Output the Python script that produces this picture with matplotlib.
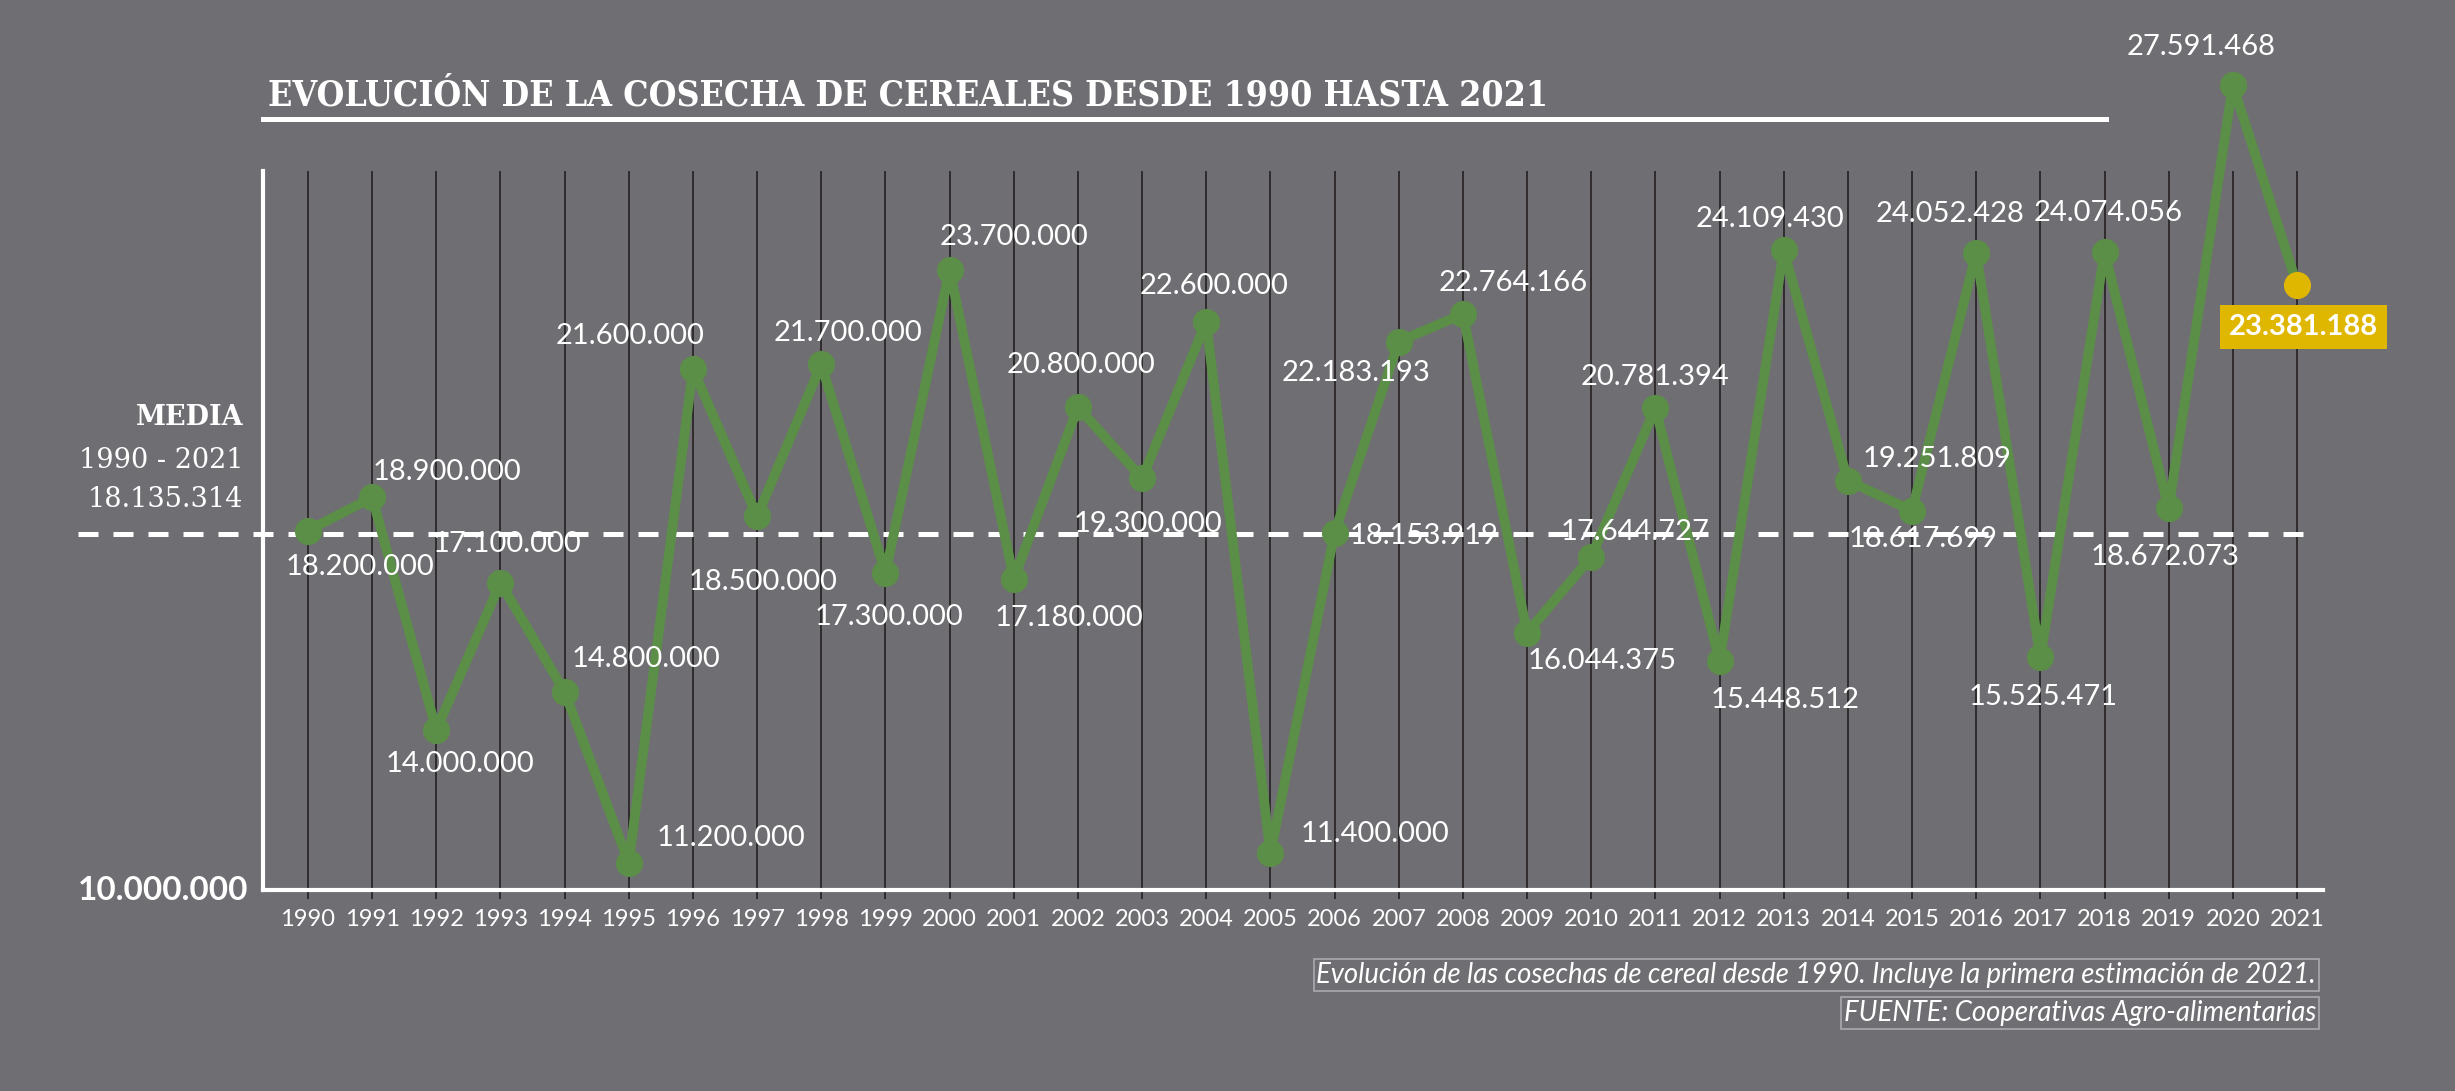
import matplotlib
matplotlib.use('Agg')
import matplotlib.pyplot as plt
from matplotlib.lines import Line2D

# ---------------- data ----------------
years = list(range(1990, 2022))
harvest = [18200000, 18900000, 14000000, 17100000, 14800000, 11200000,
           21600000, 18500000, 21700000, 17300000, 23700000, 17180000,
           20800000, 19300000, 22600000, 11400000, 18153919, 22183193,
           22764166, 16044375, 17644727, 20781394, 15448512, 24109430,
           19251809, 18617699, 24052428, 15525471, 24074056, 18672073,
           27591468, 23381188]
mean_value = 18135314
mean_period = "1990 - 2021"
title = "EVOLUCIÓN DE LA COSECHA DE CEREALES DESDE 1990 HASTA 2021"
note1 = "Evolución de las cosechas de cereal desde 1990. Incluye la primera estimación de 2021."
note2 = "FUENTE: Cooperativas Agro-alimentarias"
axis_floor_label = "10.000.000"

# label offsets (reference px, dx right, dy down)
label_offsets = [(33, 23), (48, -16), (15, 22), (4, -25), (52, -21), (65, -16),
                 (-40, -21), (4, 42), (17, -20), (2, 28), (41, -21), (35, 25),
                 (2, -27), (4, 29), (5, -23), (67, -12), (57, 2), (-27, 20),
                 (32, -20), (48, 18), (28, -16), (0, -20), (42, 25), (-9, -20),
                 (57, -14), (7, 18), (-17, -25), (2, 25), (2, -25), (-2, 31),
                 (-20, -24), (4, 27)]

def fmt(v):
    return f"{v:,}".replace(",", ".")

# ---------------- style ----------------
BG = '#6f6e73'
GREEN = '#5b8f47'
YELLOW = '#e0b700'
GRID = '#2b2728'
W = 2455
H = 1091
plt.rcParams['font.family'] = ['Lato', 'DejaVu Sans']

fig = plt.figure(figsize=(W / 100, H / 100), dpi=100, facecolor=BG)
ax = fig.add_axes([263 / W, 1 - 890 / H, 2060 / W, 719 / H])
ax.set_facecolor(BG)
ax.set_xlim(1989.2986, 2021.405)
ax.set_ylim(10.625e6, 25.778e6)

for s in ['top', 'right']:
    ax.spines[s].set_visible(False)
for s in ['left', 'bottom']:
    ax.spines[s].set_color('white')
    ax.spines[s].set_linewidth(3.0)
    ax.spines[s].set_zorder(3)

ax.set_yticks([])
ax.set_xticks(years)
ax.set_xticklabels([str(y) for y in years], fontsize=17, color='white')
ax.tick_params(axis='x', length=0, pad=14)

# vertical grid lines
ax.vlines(years, -0.012, 1.0, transform=ax.get_xaxis_transform(),
          color=GRID, lw=1.3, zorder=1, clip_on=False)

# mean dashed line
ax.plot([-0.0898, 0.9956], [mean_value, mean_value],
        transform=ax.get_yaxis_transform(), color='white', lw=3.6,
        dashes=(4, 3), dash_capstyle='butt', clip_on=False, zorder=2)

# series
ax.plot(years, harvest, color=GREEN, lw=7, zorder=4, clip_on=False,
        solid_joinstyle='round')
ax.plot(years[:-1], harvest[:-1], 'o', color=GREEN, ms=18.5, zorder=5,
        clip_on=False)
ax.plot(years[-1:], harvest[-1:], 'o', color=YELLOW, ms=18.5, zorder=5,
        clip_on=False)

k = 1.127
for i, (yr, v) in enumerate(zip(years, harvest)):
    dx, dy = label_offsets[i]
    if i == len(years) - 1:
        ax.annotate(fmt(v), (yr, v), xytext=(dx * k, -dy * k),
                    textcoords='offset points', ha='center', va='center',
                    fontsize=21, fontweight='bold', color='white', zorder=7,
                    annotation_clip=False,
                    bbox=dict(boxstyle='square,pad=0.3', fc=YELLOW, ec='none'))
    else:
        ax.annotate(fmt(v), (yr, v), xytext=(dx * k, -dy * k),
                    textcoords='offset points', ha='center', va='center',
                    fontsize=21, color='white', zorder=7,
                    annotation_clip=False)

# mean labels on the left
lx = -0.0097
for txt, off, wt in [("MEDIA", 83.5, 'bold'), (mean_period, 53, 'normal'),
                     (fmt(mean_value), 24.5, 'normal')]:
    ax.annotate(txt, (lx, mean_value), xycoords=ax.get_yaxis_transform(),
                xytext=(0, off), textcoords='offset points', ha='right',
                va='center', fontsize=19.5, color='white', fontweight=wt,
                family=['DejaVu Serif'], annotation_clip=False)

ax.text(-0.0073, 0.0, axis_floor_label, transform=ax.transAxes, ha='right',
        va='center', fontsize=24, fontweight='bold', color='white')

# title + underline
fig.text(268 / W, 1 - 105 / H, title, ha='left', va='baseline',
         fontsize=25.6, fontweight='bold', color='white',
         family=['DejaVu Serif'], fontstretch='condensed')
fig.add_artist(Line2D([263 / W, 2106 / W], [1 - 119 / H, 1 - 119 / H],
                      color='white', lw=3.6, transform=fig.transFigure))

# footnotes
fig.text(2316 / W, 1 - 975 / H, note1, ha='right', va='center', fontsize=19.8,
         style='italic', color='white', family=['Lato'],
         bbox=dict(boxstyle='square,pad=0.1', fc='none', ec='#aaaaae', lw=1.2))
fig.text(2316 / W, 1 - 1013 / H, note2, ha='right', va='center', fontsize=19.8,
         style='italic', color='white', family=['Lato'],
         bbox=dict(boxstyle='square,pad=0.1', fc='none', ec='#aaaaae', lw=1.2))

fig.savefig('out.png', dpi=100, facecolor=BG)
